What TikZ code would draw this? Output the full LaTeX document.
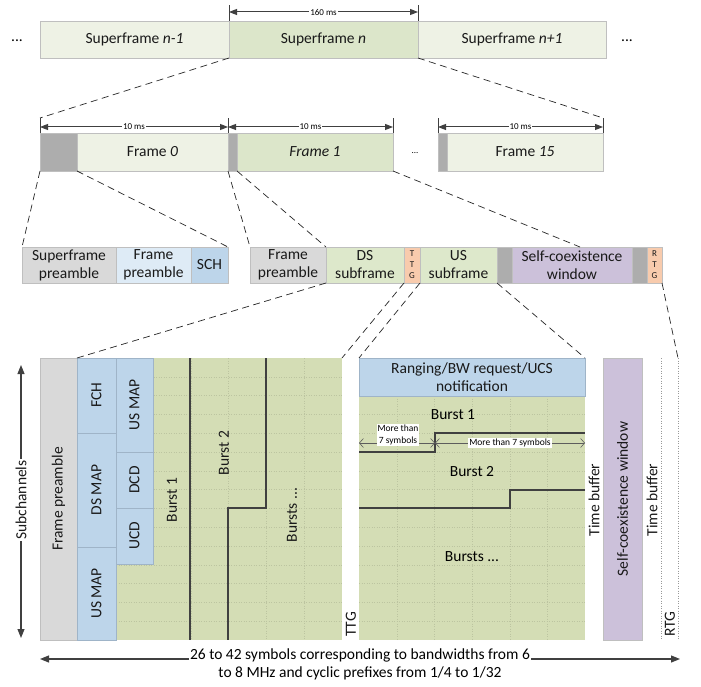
\documentclass[tikz,border=0pt]{standalone}
\usepackage{fontspec}
\setmainfont{Carlito}
\usetikzlibrary{arrows.meta}
\definecolor{sfl}{HTML}{EEF2E5}
\definecolor{sfd}{HTML}{DCE6CA}
\definecolor{gdk}{HTML}{ADADAD}
\definecolor{glt}{HTML}{D9D9D9}
\definecolor{blt}{HTML}{DEEBF6}
\definecolor{bmd}{HTML}{BDD5EA}
\definecolor{grn}{HTML}{DDE8CB}
\definecolor{pch}{HTML}{F8CBAD}
\definecolor{pur}{HTML}{CCC1DA}
\definecolor{bgr}{HTML}{D4DDB5}
\definecolor{dk}{HTML}{404040}
\definecolor{edge}{HTML}{BFBFBF}
\definecolor{bedge}{HTML}{9FB4C8}
\definecolor{gridc}{HTML}{BCC4A0}
\newcommand{\fmain}{\fontsize{15.5}{18}\selectfont}
\newcommand{\fsmall}{\fontsize{9}{11}\selectfont}
\newcommand{\fmore}{\fontsize{9.5}{11.5}\selectfont}
\newcommand{\BOX}[7]{\node[box,#1,anchor=north west,minimum width={(#5-#3)*1pt},minimum height={(#6-#4)*1pt}] (#2) at (#3,#4) {#7};}
\begin{document}
\begin{tikzpicture}[x=1pt,y=-1pt,
  box/.style={draw=edge,line width=0.6pt,inner sep=0pt,outer sep=0pt,align=center,font=\fmain,text=black!90},
  arr/.style={draw=dk,line width=1.1pt,{Triangle[length=9pt,width=7pt]}-{Triangle[length=9pt,width=7pt]}},
  sarr/.style={draw=dk,line width=1pt,{Triangle[length=8pt,width=6pt]}-{Triangle[length=8pt,width=6pt]}},
  tk/.style={draw=dk,line width=0.7pt},
  zl/.style={draw=black!85,line width=0.7pt,dash pattern=on 7pt off 4.5pt},
  lbl/.style={fill=white,inner sep=1pt,font=\fsmall},
  bl/.style={draw=dk,line width=2.3pt},
  dimarr/.style={draw=dk!85,line width=0.6pt,{Straight Barb[length=4pt,width=9pt]}-{Straight Barb[length=4pt,width=9pt]}},
  rot/.style={rotate=90,font=\fmain,inner sep=0pt,text=black!90},
  grd/.style={draw=gridc,line width=0.35pt,dash pattern=on 1pt off 1.5pt},
  dline/.style={draw=black!40,line width=0.6pt,dash pattern=on 1pt off 1.5pt}]
\useasboundingbox[fill=white] (0,0) rectangle (701,687);

% ---------- superframes ----------
\BOX{fill=sfl}{sfA}{40}{21}{229}{58}{Superframe \textit{n-1}}
\BOX{fill=sfd}{sfB}{229}{21}{418}{58}{Superframe \textit{n}}
\BOX{fill=sfl}{sfC}{418}{21}{606}{58}{Superframe \textit{n+1}}
\node[font=\fmain] (dotL) at (17,41) {...};
\node[font=\fmain] (dotR) at (627,41) {...};
\coordinate (tA) at (229,5); \coordinate (tB) at (418,5);
\draw[tk] (sfB.north west) -- (tA);
\draw[tk] (sfB.north east) -- (tB);
\coordinate (aA) at (229,12); \coordinate (aB) at (418,12);
\draw[sarr] (aA) -- node[lbl] (l160) {160 ms} (aB);

% ---------- frames ----------
\BOX{fill=gdk}{f0g}{40}{133}{77}{171}{}
\BOX{fill=sfl}{f0}{77}{133}{228}{171}{Frame \textit{0}}
\BOX{fill=gdk}{f1g}{228}{133}{237}{171}{}
\BOX{fill=sfd}{f1}{237}{133}{393}{171}{\textit{Frame 1}}
\node[font=\fsmall] (fdots) at (415,153) {...};
\BOX{fill=gdk}{f15g}{438}{133}{447}{171}{}
\BOX{fill=sfl}{f15}{447}{133}{603}{171}{Frame \textit{15}}
\coordinate (k1) at (40,118); \coordinate (k2) at (228,118); \coordinate (k3) at (393,118);
\coordinate (k4) at (438,118); \coordinate (k5) at (603,118);
\draw[tk] (f0g.north west) -- (k1);
\draw[tk] (f1g.north west) -- (k2);
\draw[tk] (f1.north east) -- (k3);
\draw[tk] (f15g.north west) -- (k4);
\draw[tk] (f15.north east) -- (k5);
\coordinate (m1) at (40,127); \coordinate (m2) at (228,127); \coordinate (m3) at (393,127);
\coordinate (m4) at (438,127); \coordinate (m5) at (603,127);
\draw[sarr] (m1) -- node[lbl] (l10a) {10 ms} (m2);
\draw[sarr] (m2) -- node[lbl] (l10b) {10 ms} (m3);
\draw[sarr] (m4) -- node[lbl] (l10c) {10 ms} (m5);
\draw[zl] (sfB.south west) -- (k1);
\draw[zl] (sfB.south east) -- (k5);

% ---------- subframe row ----------
\BOX{fill=glt}{spre}{22}{247}{116}{283}{Superframe\\preamble}
\BOX{fill=blt}{fpl}{116}{247}{191}{283}{Frame\\preamble}
\BOX{fill=bmd}{sch}{191}{247}{228}{283}{SCH}
\BOX{fill=glt}{fpre}{250}{247}{326}{283}{Frame\\preamble}
\BOX{fill=grn}{ds}{326}{247}{404}{283}{DS\\subframe}
\BOX{fill=pch,font=\fsmall}{ttg}{404}{247}{420}{283}{T\\T\\G}
\BOX{fill=grn}{us}{420}{247}{497}{283}{US\\subframe}
\BOX{fill=gdk}{g1}{497}{247}{512}{283}{}
\BOX{fill=pur}{scw}{512}{247}{632}{283}{Self-coexistence\\window}
\BOX{fill=gdk}{g2}{632}{247}{647}{283}{}
\BOX{fill=pch,font=\fsmall}{rtg}{647}{247}{662}{283}{R\\T\\G}
\coordinate (scwp) at (580,247);
\draw[zl] (f0g.south west) -- (spre.north west);
\draw[zl] (f0g.south east) -- (sch.north east);
\draw[zl] (f1g.south west) -- (fpre.north west);
\draw[zl] (f1g.south east) -- (fpre.north east);
\draw[zl] (f1.south east) -- (scwp);

% ---------- bottom: DS part ----------
\BOX{fill=bgr,draw=none}{lg}{116}{358}{342}{640}{}
\foreach \i in {1,...,4} \draw[grd] ({153+\i*37.75},358) -- ({153+\i*37.75},640);
\foreach \j in {1,...,14} \draw[grd] (116,{358+\j*18.8}) -- (342,{358+\j*18.8});
\BOX{fill=glt}{bfp}{40}{358}{77}{640}{}
\BOX{fill=bmd,draw=bedge}{fch}{77}{358}{116}{433}{}
\BOX{fill=bmd,draw=bedge}{dsmap}{77}{433}{116}{547}{}
\BOX{fill=bmd,draw=bedge}{usmapA}{77}{547}{116}{640}{}
\BOX{fill=bmd,draw=bedge}{usmapB}{116}{358}{153}{452}{}
\BOX{fill=bmd,draw=bedge}{dcd}{116}{452}{153}{508}{}
\BOX{fill=bmd,draw=bedge}{ucd}{116}{508}{153}{564}{}
\node[rot] (tbfp) at (bfp.center) {Frame preamble};
\node[rot] (tfch) at (fch.center) {FCH};
\node[rot] (tdsmap) at (dsmap.center) {DS MAP};
\node[rot] (tusmapA) at (usmapA.center) {US MAP};
\node[rot] (tusmapB) at (usmapB.center) {US MAP};
\node[rot] (tdcd) at (dcd.center) {DCD};
\node[rot] (tucd) at (ucd.center) {UCD};
\draw[bl] (190,358) -- (190,640);
\draw[bl] (266,358) -- (266,508) -- (228,508) -- (228,640);
\node[rot] (tb1) at (172,500) {Burst 1};
\node[rot] (tb2) at (224,453) {Burst 2};
\node[rot] (tbs) at (292,515) {Bursts ...};
\node[rot,anchor=west] (tttg) at (351,637) {TTG};

% ---------- bottom: US part ----------
\BOX{fill=bgr,draw=none}{rg}{359}{358}{585}{640}{}
\foreach \i in {1,...,5} \draw[grd] ({359+\i*37.7},396) -- ({359+\i*37.7},640);
\foreach \j in {3,...,14} \draw[grd] (359,{358+\j*18.8}) -- (585,{358+\j*18.8});
\BOX{fill=bmd,draw=bedge}{rng}{359}{358}{585}{396}{Ranging/BW request/UCS\\notification}
\draw[bl] (359,452) -- (435,452) -- (435,433) -- (585,433);
\draw[bl] (359,508) -- (510,508) -- (510,490) -- (585,490);
\node[font=\fmain] (rb1) at (453,415) {Burst 1};
\node[font=\fmain] (rb2) at (472,472) {Burst 2};
\node[font=\fmain] (rbs) at (472,557) {Bursts ...};
\coordinate (d1) at (359,443); \coordinate (d2) at (435,443); \coordinate (d3) at (585,443);
\draw[dimarr] (d1) -- (d2);
\draw[dimarr] (d2) -- node[fill=white,inner sep=1pt,font=\fmore] (mt2) {More than 7 symbols} (d3);
\node[fill=white,inner sep=1pt,font=\fmore,align=center] (mt1) at (398,435) {More than\\7 symbols};
\node[rot] (ttb1) at (594,500) {Time buffer};
\BOX{fill=pur,draw=edge}{bscw}{603}{358}{642}{640}{}
\node[rot] (tbscw) at (bscw.center) {Self-coexistence window};
\node[rot] (ttb2) at (652,500) {Time buffer};
\coordinate (q1) at (661,358); \coordinate (q2) at (661,640);
\coordinate (q3) at (678,358); \coordinate (q4) at (678,640);
\draw[dline] (q1) -- (q2);
\draw[dline] (q3) -- (q4);
\node[rot,anchor=west] (trtg) at (670,637) {RTG};

% ---------- zoom lines to bottom ----------
\draw[zl] (fpre.south east) -- (fch.north west);
\draw[zl] (ttg.south west) -- (lg.north east);
\draw[zl] (ttg.south east) -- (rng.north west);
\draw[zl] (us.south east) -- (rng.north east);
\draw[zl] (rtg.south east) -- (q3);

% ---------- axes ----------
\coordinate (s1) at (21,365); \coordinate (s2) at (21,638);
\draw[arr] (s1) -- (s2);
\node[rot,fill=white,inner sep=1pt] (tsub) at (21,500) {Subchannels};
\coordinate (b1) at (40,659); \coordinate (b2) at (680,659);
\draw[arr] (b1) -- (b2);
\node[fill=white,inner sep=1pt,font=\fmain,align=center] (cap) at (360,664) {26 to 42 symbols corresponding to bandwidths from 6\\to 8 MHz and cyclic prefixes from 1/4 to 1/32};
\end{tikzpicture}
\end{document}
